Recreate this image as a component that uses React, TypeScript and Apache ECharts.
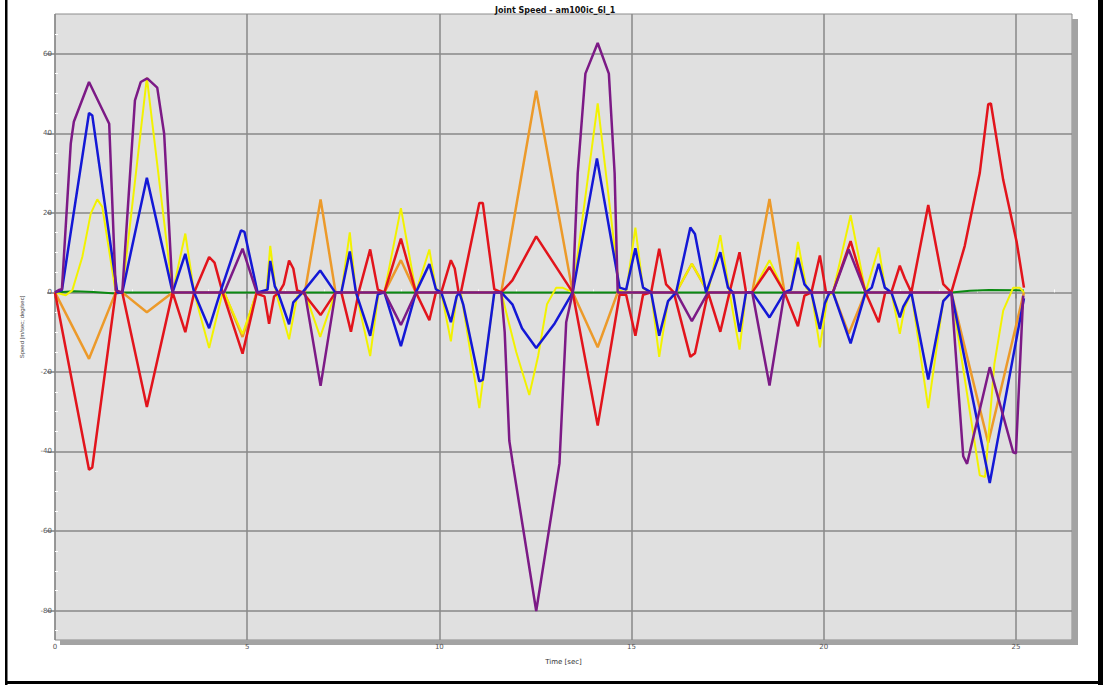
import React, { useEffect, useRef } from 'react';
import * as echarts from 'echarts';

const chartTitle = 'Joint Speed - am100ic_6l_1';
const xName = 'Time [sec]';
const yName = 'Speed [m/sec; deg/sec]';
const xTickLabels = [0, 5, 10, 15, 20, 25];
const yTickLabels = [-80, -60, -40, -20, 0, 20, 40, 60];

const greenData: [number, number][] = [
  [0, 0], [0.5, 0.3], [1.0, 0.1], [1.58, -0.3], [1.75, 0], [23.32, 0], [23.8, 0.4], [24.3, 0.6], [25.21, 0.5],
];

const orangeData: [number, number][] = [
  [0, 0], [0.885, -16.7], [1.58, 0], [1.75, 0], [2.39, -5], [3.06, 0], [4.4, 0], [4.88, -11.2], [5.25, 0],
  [6.5, 0], [6.91, 23.4], [7.3, 0], [8.57, 0], [9.0, 8.1], [9.39, 0], [11.61, 0], [12.52, 50.7], [13.47, 0],
  [14.12, -13.8], [14.64, 0], [16.16, 0], [16.57, 7.2], [16.99, 0], [18.14, 0], [18.59, 23.5], [18.98, 0],
  [20.24, 0], [20.65, -10.4], [21.09, 0], [23.32, 0], [24.28, -37.8], [25.21, 0],
];

const yellowData: [number, number][] = [
  [0, 0], [0.28, -0.7], [0.45, 0.5], [0.71, 8.9], [0.93, 19.8], [1.1, 23.4], [1.23, 21.5], [1.58, 0], [1.75, 0],
  [2.39, 54], [3.06, 0], [3.39, 14.8], [3.62, 0], [4.01, -14], [4.36, 0], [4.4, 0], [4.88, -10.5], [5.25, 0],
  [5.5, 0], [5.6, 11.7], [5.75, 0], [6.09, -11.8], [6.3, -1], [6.5, 0], [6.9, -11.2], [7.3, 0], [7.45, 0],
  [7.67, 15.1], [7.83, 0], [8.2, -16], [8.42, 0], [8.57, 0], [9.0, 21.2], [9.39, 0], [9.74, 10.8], [9.91, 1],
  [10.05, 0], [10.3, -12.3], [10.45, -1], [10.56, 0], [11.04, -29.1], [11.43, 0], [11.61, 0], [12.0, -15],
  [12.34, -25.8], [12.57, -16], [12.8, -3], [13.04, 1.2], [13.2, 1.2], [13.47, 0], [14.12, 47.5], [14.69, 0.5],
  [14.86, 0], [15.1, 16.3], [15.3, 1], [15.51, 0], [15.72, -16.2], [15.95, -2.2], [16.16, 0], [16.57, 7.2],
  [16.99, 0], [17.31, 14.4], [17.55, 0], [17.81, -14.4], [17.98, 0], [18.14, 0], [18.59, 8.1], [18.98, 0],
  [19.15, 0.5], [19.33, 12.7], [19.55, 1], [19.68, 0], [19.9, -13.8], [20.1, -1], [20.24, 0], [20.7, 19.4],
  [21.09, 0], [21.43, 11.3], [21.6, 1], [21.76, 0], [21.98, -10.4], [22.1, -4], [22.28, 0], [22.72, -29.1],
  [23.11, -2], [23.32, 0], [24.06, -46], [24.2, -46.4], [24.44, -18], [24.67, -4.6], [24.93, 1.2], [25.1, 1.2],
  [25.21, 0],
];

const redData: [number, number][] = [
  [0, 0], [0.885, -44.6], [0.97, -44], [1.58, 0], [1.75, 0], [2.39, -28.8], [3.06, 0], [3.39, -10], [3.62, 0],
  [4.01, 8.9], [4.15, 7.5], [4.36, 0], [4.88, -15.4], [5.25, 0], [5.3, -0.5], [5.45, -1], [5.57, -7.9],
  [5.7, -1], [5.83, 0], [5.95, 2], [6.09, 8], [6.2, 6], [6.3, 0.5], [6.45, 0], [6.91, -5.7], [7.3, 0],
  [7.45, 0], [7.7, -9.9], [7.9, 0], [8.2, 10.8], [8.4, 0.7], [8.57, 0], [9.0, 13.5], [9.39, 0], [9.74, -7],
  [9.91, 0], [10.05, 0], [10.3, 8.1], [10.4, 6], [10.5, 0], [10.56, 0], [11.04, 22.5], [11.13, 22.5],
  [11.43, 0.8], [11.61, 0], [11.9, 3], [12.52, 14.1], [13.47, 0], [14.12, -33.5], [14.69, -0.6], [14.86, -0.6],
  [15.1, -10.9], [15.3, -0.6], [15.51, 0], [15.72, 11], [15.9, 2], [16.1, 0], [16.53, -16.2], [16.65, -15.3],
  [16.99, 0], [17.31, -9.9], [17.55, 0], [17.81, 10.1], [17.98, 0], [18.14, 0], [18.59, 6.4], [18.98, 0],
  [19.33, -8.5], [19.5, -0.8], [19.68, 0], [19.9, 9.3], [20.06, 0], [20.24, 0], [20.7, 12.9], [21.09, 0],
  [21.43, -7.5], [21.6, 0], [21.76, 0], [21.98, 6.7], [22.11, 3.5], [22.28, 0], [22.72, 22], [23.11, 2.1],
  [23.32, 0], [23.67, 11.7], [24.06, 30], [24.28, 47.3], [24.35, 47.5], [24.67, 28.3], [25.02, 12.7],
  [25.21, 1.2],
];

const blueData: [number, number][] = [
  [0, 0], [0.18, 0.6], [0.885, 45.1], [0.97, 44.5], [1.62, 0], [1.75, 0], [2.39, 28.8], [3.06, 0], [3.39, 9.7],
  [3.62, 0], [4.01, -9.0], [4.3, 0], [4.84, 15.6], [4.93, 15.2], [5.27, 0], [5.53, 0.7], [5.6, 7.9],
  [5.72, 1.5], [5.8, 0], [6.09, -8], [6.2, -2.5], [6.44, 0], [6.9, 5.5], [7.29, 0], [7.45, 0], [7.67, 10.3],
  [7.83, 0], [8.2, -10.9], [8.4, -0.5], [8.57, 0], [9.0, -13.5], [9.39, 0], [9.74, 7.1], [9.91, 0.8],
  [10.05, 0], [10.3, -7.5], [10.45, -1], [10.52, 0], [10.62, -3], [11.04, -22.4], [11.13, -22], [11.43, 0],
  [11.61, 0], [11.9, -3], [12.15, -9], [12.52, -14], [13.0, -7.8], [13.47, 0], [14.1, 33.7], [14.69, 1.2],
  [14.86, 0.7], [15.1, 11.1], [15.3, 1.2], [15.51, 0], [15.72, -10.9], [15.95, -2.2], [16.16, 0], [16.53, 16.3],
  [16.65, 14.7], [16.94, 0], [17.31, 10.1], [17.51, 1.2], [17.64, 0], [17.81, -9.9], [17.98, 0], [18.14, 0],
  [18.59, -6.3], [18.98, 0], [19.15, 0.7], [19.33, 8.7], [19.5, 2], [19.68, 0], [19.9, -9.2], [20.03, -2.7],
  [20.15, 0], [20.24, 0], [20.7, -12.8], [21.09, 0], [21.25, 1.2], [21.43, 7.2], [21.59, 1.2], [21.76, 0],
  [21.98, -6.3], [22.07, -3.6], [22.28, 0], [22.72, -21.9], [23.11, -2.2], [23.32, 0], [24.32, -47.9],
  [25.21, -1.5],
];

const purpleData: [number, number][] = [
  [0, 0], [0.1, 0.6], [0.18, 0.8], [0.41, 37.4], [0.49, 42.9], [0.885, 52.9], [1.41, 42.4], [1.58, 0.5],
  [1.75, 0], [2.08, 48.3], [2.23, 52.9], [2.4, 53.8], [2.66, 51.5], [2.84, 39.9], [3.06, 0], [4.4, 0],
  [4.88, 11], [5.25, 0], [6.5, 0], [6.91, -23.5], [7.3, 0], [8.57, 0], [9.0, -8.2], [9.39, 0], [11.61, 0],
  [11.7, -10], [11.82, -37.3], [11.91, -43], [12.52, -80.1], [13.125, -43], [13.3, -7.5], [13.47, 0],
  [13.6, 30], [13.8, 55], [14.12, 62.7], [14.41, 55], [14.56, 30], [14.64, 0], [16.16, 0], [16.57, -7.2],
  [16.99, 0], [18.14, 0], [18.59, -23.4], [18.98, 0], [20.24, 0], [20.65, 10.8], [21.09, 0], [23.32, 0],
  [23.63, -41.2], [23.73, -43.1], [24.32, -18.8], [24.93, -40.2], [25.0, -40.5], [25.19, -0.8],
];

const seriesDefs = [
  { name: 'J6', data: greenData, color: '#0b8a12', width: 2 },
  { name: 'J4', data: orangeData, color: '#ec9a2a', width: 2.5 },
  { name: 'J5', data: yellowData, color: '#f2f200', width: 2 },
  { name: 'J1', data: redData, color: '#e2141c', width: 2.5 },
  { name: 'J2', data: blueData, color: '#1418d6', width: 2.5 },
  { name: 'J3', data: purpleData, color: '#7c1a86', width: 2.5 },
];

const X_MIN = 0;
const X_MAX = 26.46;
const Y_MIN = -87.4;
const Y_MAX = 70;

const fmt = (list: number[]) => (v: number) => {
  const r = Math.round(v);
  return Math.abs(v - r) < 1e-6 && list.includes(r) ? String(r) : '';
};

export default function App() {
  const ref = useRef<HTMLDivElement>(null);
  useEffect(() => {
    const chart = echarts.init(ref.current!, null, { renderer: 'svg' });
    const labelStyle = { color: '#555', fontSize: 7, fontFamily: 'DejaVu Sans' };
    chart.setOption({
      animation: false,
      backgroundColor: '#ffffff',
      title: {
        text: chartTitle,
        left: 490,
        top: 1,
        textStyle: { fontSize: 8, fontWeight: 'bold', fontFamily: 'DejaVu Sans', color: '#111' },
      },
      grid: {
        show: true,
        left: 55,
        top: 14,
        right: 31,
        bottom: 49,
        backgroundColor: '#e0e0e0',
        borderColor: '#8c8c8c',
        borderWidth: 1,
      },
      xAxis: [
        {
          type: 'value',
          min: X_MIN,
          max: X_MAX,
          interval: 5,
          position: 'bottom',
          axisLine: { show: false },
          axisTick: { show: true, length: 6, customValues: xTickLabels, lineStyle: { color: '#808080', width: 1.5 } },
          axisLabel: { ...labelStyle, margin: 3, customValues: xTickLabels, formatter: fmt(xTickLabels) },
          splitLine: { show: true, lineStyle: { color: '#898989', width: 1.5 } },
          name: xName,
          nameLocation: 'middle',
          nameGap: 18,
          nameTextStyle: { color: '#333', fontSize: 7, fontFamily: 'DejaVu Sans' },
        },
        {
          type: 'value',
          min: X_MIN,
          max: X_MAX,
          interval: 5,
          position: 'bottom',
          axisLine: { show: false },
          axisTick: { show: false, inside: true },
          axisLabel: { show: false },
          splitLine: { show: false },
          minorTick: { show: true, splitNumber: 5, length: 3, lineStyle: { color: '#ffffff', width: 1 } },
        },
      ],
      yAxis: [
        {
          type: 'value',
          min: Y_MIN,
          max: Y_MAX,
          splitNumber: 8,
          position: 'left',
          axisLine: { show: false },
          axisTick: { show: true, length: 8, customValues: yTickLabels, lineStyle: { color: '#808080', width: 1.5 } },
          axisLabel: { ...labelStyle, margin: 3, customValues: yTickLabels, formatter: fmt(yTickLabels) },
          splitLine: { show: true, lineStyle: { color: '#898989', width: 1.5 } },
          name: yName,
          nameLocation: 'middle',
          nameGap: 30,
          nameTextStyle: { color: '#444', fontSize: 6, fontFamily: 'Liberation Sans' },
        },
        {
          type: 'value',
          min: Y_MIN,
          max: Y_MAX,
          splitNumber: 8,
          position: 'left',
          axisLine: { show: false },
          axisTick: { show: false, inside: true },
          axisLabel: { show: false },
          splitLine: { show: false },
          minorTick: { show: true, splitNumber: 4, length: 3, lineStyle: { color: '#ffffff', width: 1 } },
        },
      ],
      series: seriesDefs.map((s) => ({
        name: s.name,
        type: 'line',
        data: s.data,
        xAxisIndex: 0,
        yAxisIndex: 0,
        showSymbol: false,
        symbol: 'none',
        lineStyle: { color: s.color, width: s.width },
        itemStyle: { color: s.color },
        emphasis: { disabled: true },
      })),
      graphic: [
        { type: 'rect', shape: { x: 1072, y: 19, width: 6, height: 626 }, style: { fill: '#a3a3a3' }, silent: true },
        { type: 'rect', shape: { x: 60, y: 640, width: 1018, height: 5 }, style: { fill: '#a3a3a3' }, silent: true },
        { type: 'rect', shape: { x: 5, y: 0, width: 2.5, height: 685 }, style: { fill: '#000' }, silent: true },
        { type: 'rect', shape: { x: 1098, y: 0, width: 5, height: 685 }, style: { fill: '#000' }, silent: true },
        { type: 'rect', shape: { x: 5, y: 681, width: 1098, height: 3 }, style: { fill: '#000' }, silent: true },
      ],
    });
    return () => chart.dispose();
  }, []);
  return (
    <div
      ref={ref}
      style={{ position: 'fixed', left: 0, top: 0, width: 1103, height: 689, background: '#fff' }}
    />
  );
}
